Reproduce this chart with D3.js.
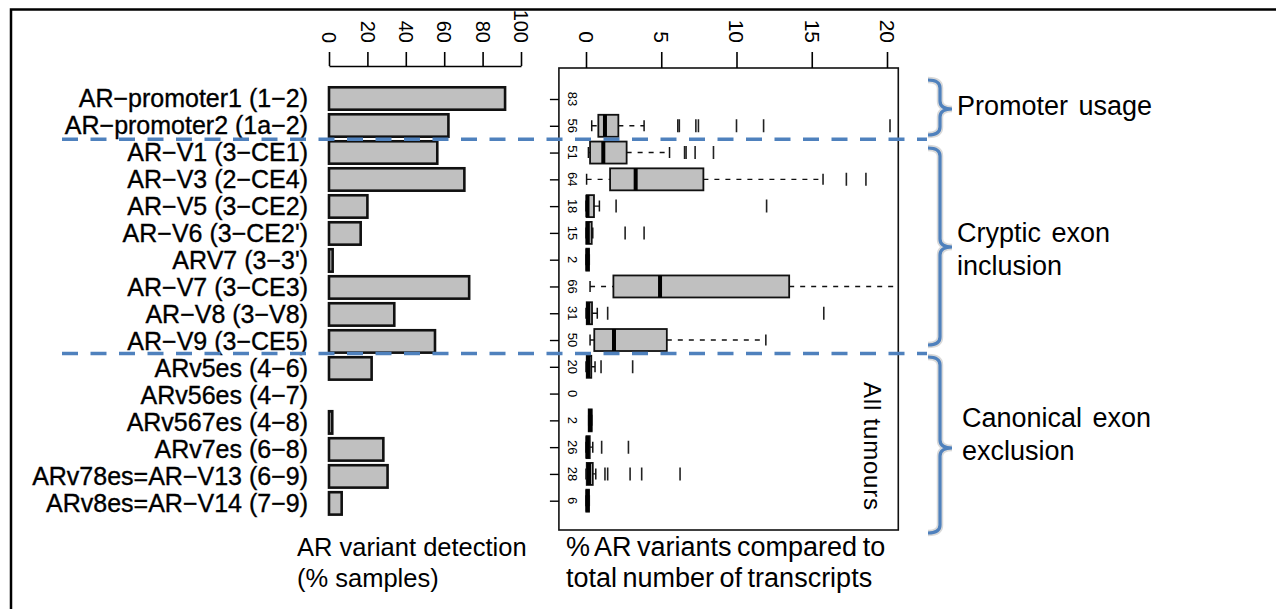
<!DOCTYPE html>
<html>
<head>
<meta charset="utf-8">
<script src="https://cdn.jsdelivr.net/npm/d3@7"></script>
<style>
  body { margin: 0; background: #fff; }
  text { font-family: "Liberation Sans", Arial, sans-serif; fill: #000; }
</style>
</head>
<body>
<div id="img"></div>
<script>
// variant names (rows, top to bottom)
const variants = ["AR−promoter1 (1−2)", "AR−promoter2 (1a−2)", "AR−V1 (3−CE1)", "AR−V3 (2−CE4)",
  "AR−V5 (3−CE2)", "AR−V6 (3−CE2')", "ARV7 (3−3')", "AR−V7 (3−CE3)", "AR−V8 (3−V8)", "AR−V9 (3−CE5)",
  "ARv5es (4−6)", "ARv56es (4−7)", "ARv567es (4−8)", "ARv7es (6−8)", "ARv78es=AR−V13 (6−9)", "ARv8es=AR−V14 (7−9)"];

// % samples where the variant was detected
const detection = [91.7, 62.2, 56.4, 70.5, 20, 16.5, 1.9, 73, 34, 55.2, 22.2, 0, 1.7, 28.3, 30.5, 6.6];

// number of samples per row
const counts = [83, 56, 51, 64, 18, 15, 2, 66, 31, 50, 20, 0, 2, 26, 28, 6];

// boxplot stats (% of transcripts), null = no box drawn
const whiskLo = [null, 0.38, 0.16, 0.04, 0, 0, 0, 0.27, 0, 0.27, 0, null, 0.18, 0, 0, 0];
const q1      = [null, 0.82, 0.27, 1.6, 0.04, 0.02, 0.02, 1.82, 0.05, 0.55, 0.05, null, 0.18, 0.03, 0.05, 0.02];
const median  = [null, 1.26, 1.15, 3.3, 0.1, 0.12, 0.1, 4.92, 0.15, 1.86, 0.15, null, 0.28, 0.1, 0.2, 0.1];
const q3      = [null, 2.15, 2.7, 7.8, 0.53, 0.38, 0.2, 13.5, 0.4, 5.37, 0.35, null, 0.38, 0.25, 0.45, 0.2];
const whiskHi = [null, 3.86, 5.55, 15.75, 0.89, 0.45, 0.22, 22, 0.75, 11.95, 0.6, null, 0.38, 0.45, 0.65, 0.22];
const outliers = [[], [6.1, 6.2, 7.3, 7.47, 10.0, 11.8, 20.2], [6.55, 6.65, 7.25, 8.47], [17.3, 18.6],
  [2.0, 12.0], [2.6, 3.86], [], [], [1.44, 15.8], [], [1.0, 3.1], [], [], [1.04, 2.82],
  [1.26, 1.44, 2.93, 3.7, 6.25], []];

const barTicks = [0, 20, 40, 60, 80, 100];
const boxTicks = [0, 5, 10, 15, 20];

// group brackets on the right
const groups = [
  {lines: ["Promoter usage"], first: 0, last: 1},
  {lines: ["Cryptic exon", "inclusion"], first: 2, last: 9},
  {lines: ["Canonical exon", "exclusion"], first: 10, last: 15}
];

const W = 1276, H = 609;
const blue = "#4f81bd";

var svg = d3.select("#img").append("svg")
  .attr("width", W)
  .attr("height", H);

// outer frame (top and left)
svg.append("path")
  .attr("d", "M11,609 L11,9.5 L1276,9.5")
  .attr("fill", "none").attr("stroke", "#000").attr("stroke-width", 2.5);

// ---------- left panel: bar chart ----------
var barX = d3.scaleLinear().domain([0, 100]).range([329, 521]);
var barY = d3.scaleBand().domain(variants).range([82.7, 519.2]).padding(0.17);

var gBar = svg.append("g");

gBar.selectAll("rect.bar")
  .data(variants)
  .enter()
  .append("rect")
  .attr("class", "bar")
  .attr("x", barX(0))
  .attr("y", d => barY(d))
  .attr("width", (d, i) => barX(detection[i]) - barX(0))
  .attr("height", barY.bandwidth())
  .attr("fill", "#c0c0c0")
  .attr("stroke", "#111")
  .attr("stroke-width", 2.6);

// row labels
gBar.selectAll("text.lab")
  .data(variants)
  .enter()
  .append("text")
  .attr("class", "lab")
  .attr("x", 308)
  .attr("y", d => barY(d) + barY.bandwidth() / 2)
  .attr("dy", "0.36em")
  .attr("text-anchor", "end")
  .style("font-size", "25px")
  .style("stroke", "#000").style("stroke-width", 0.35)
  .text(d => d);

// top axis of bar chart, labels turned on their side
var axBar = svg.append("g")
  .attr("transform", "translate(0,66)")
  .call(d3.axisTop(barX).tickValues(barTicks).tickSize(14).tickSizeOuter(0));
axBar.select(".domain").attr("stroke-width", 1.6);
axBar.selectAll(".tick line").attr("stroke-width", 1.6);
axBar.selectAll(".tick text")
  .attr("x", 0).attr("y", 0).attr("dy", "0.36em")
  .attr("text-anchor", "end")
  .attr("transform", "translate(0,-23) rotate(90)")
  .style("font-size", "20px")
  .style("font-family", "Liberation Sans, Arial, sans-serif");

// ---------- right panel: boxplots ----------
var boxX = d3.scaleLinear().domain([0, 20]).range([586, 887]);
var boxY = d3.scalePoint().domain(variants).range([99, 500.7]);
var frameL = boxX(-1.8), frameR = boxX(20.75), frameT = 68, frameB = 530;

svg.append("clipPath").attr("id", "clipBox")
  .append("rect")
  .attr("x", frameL).attr("y", frameT)
  .attr("width", frameR - frameL).attr("height", frameB - frameT);

var gBox = svg.append("g").attr("clip-path", "url(#clipBox)");
var boxH = 11, capH = 5.5, outH = 6.5;

var rows = variants.map((v, i) => ({v: v, i: i})).filter(d => q1[d.i] !== null);

// dashed whiskers
gBox.selectAll("line.whisk")
  .data(rows.flatMap(d => [{d: d, a: whiskLo[d.i], b: q1[d.i]}, {d: d, a: q3[d.i], b: whiskHi[d.i]}]))
  .enter()
  .append("line")
  .attr("x1", w => boxX(w.a)).attr("x2", w => boxX(w.b))
  .attr("y1", w => boxY(w.d.v)).attr("y2", w => boxY(w.d.v))
  .attr("stroke", "#111").attr("stroke-width", 1.4)
  .attr("stroke-dasharray", "5,6");

// whisker caps
gBox.selectAll("line.cap")
  .data(rows.flatMap(d => [{d: d, x: whiskLo[d.i]}, {d: d, x: whiskHi[d.i]}]))
  .enter()
  .append("line")
  .attr("x1", c => boxX(c.x)).attr("x2", c => boxX(c.x))
  .attr("y1", c => boxY(c.d.v) - capH).attr("y2", c => boxY(c.d.v) + capH)
  .attr("stroke", "#111").attr("stroke-width", 1.5);

// boxes
gBox.selectAll("rect.box")
  .data(rows)
  .enter()
  .append("rect")
  .attr("x", d => boxX(q1[d.i]))
  .attr("y", d => boxY(d.v) - boxH)
  .attr("width", d => boxX(q3[d.i]) - boxX(q1[d.i]))
  .attr("height", 2 * boxH)
  .attr("fill", "#c0c0c0")
  .attr("stroke", "#111")
  .attr("stroke-width", 1.8);

// medians
gBox.selectAll("line.med")
  .data(rows)
  .enter()
  .append("line")
  .attr("x1", d => boxX(median[d.i])).attr("x2", d => boxX(median[d.i]))
  .attr("y1", d => boxY(d.v) - boxH).attr("y2", d => boxY(d.v) + boxH)
  .attr("stroke", "#000").attr("stroke-width", 4);

// outliers drawn as short vertical bars
gBox.selectAll("line.out")
  .data(variants.flatMap((v, i) => outliers[i].map(o => ({v: v, x: o}))))
  .enter()
  .append("line")
  .attr("x1", o => boxX(o.x)).attr("x2", o => boxX(o.x))
  .attr("y1", o => boxY(o.v) - outH).attr("y2", o => boxY(o.v) + outH)
  .attr("stroke", "#222").attr("stroke-width", 1.6);

// frame of the boxplot panel
svg.append("rect")
  .attr("x", frameL).attr("y", frameT)
  .attr("width", frameR - frameL).attr("height", frameB - frameT)
  .attr("fill", "none").attr("stroke", "#111").attr("stroke-width", 1.6);

// top axis
var axBox = svg.append("g")
  .attr("transform", "translate(0," + frameT + ")")
  .call(d3.axisTop(boxX).tickValues(boxTicks).tickSize(16).tickSizeOuter(0));
axBox.select(".domain").remove();
axBox.selectAll(".tick line").attr("stroke-width", 1.6);
axBox.selectAll(".tick text")
  .attr("x", 0).attr("y", 0).attr("dy", "0.36em")
  .attr("text-anchor", "end")
  .attr("transform", "translate(0,-25) rotate(90)")
  .style("font-size", "21px")
  .style("font-family", "Liberation Sans, Arial, sans-serif");

// left ticks, one per row
var axRows = svg.append("g")
  .attr("transform", "translate(" + frameL + ",0)")
  .call(d3.axisLeft(boxY).tickSize(9).tickFormat(""));
axRows.select(".domain").remove();
axRows.selectAll(".tick line").attr("stroke-width", 1.4);

// sample counts
svg.selectAll("text.n")
  .data(variants)
  .enter()
  .append("text")
  .attr("class", "n")
  .attr("text-anchor", "middle")
  .attr("dy", "0.36em")
  .attr("transform", (d, i) => "translate(573," + boxY(d) + ") rotate(90)")
  .style("font-size", "13px")
  .text((d, i) => counts[i]);

svg.append("text")
  .attr("text-anchor", "start")
  .attr("dy", "0.36em")
  .attr("transform", "translate(873,382) rotate(90)")
  .style("font-size", "24px")
  .style("letter-spacing", "0.8px")
  .text("All tumours");

// ---------- group separators and brackets ----------
var sepY = [(boxY(variants[1]) + boxY(variants[2])) / 2, (boxY(variants[9]) + boxY(variants[10])) / 2];
svg.selectAll("line.sep")
  .data(sepY)
  .enter()
  .append("line")
  .attr("x1", 62).attr("x2", 927)
  .attr("y1", d => d).attr("y2", d => d)
  .attr("stroke", blue).attr("stroke-width", 3.5)
  .attr("stroke-dasharray", "16,12.5");

function bracePath(y0, y1, ym) {
  var x0 = 928, xv = 940, xt = 952, r = 8;
  return "M" + x0 + "," + y0 + " Q" + xv + "," + y0 + " " + xv + "," + (y0 + r) +
    " L" + xv + "," + (ym - r) + " Q" + xv + "," + ym + " " + xt + "," + ym +
    " Q" + xv + "," + ym + " " + xv + "," + (ym + r) +
    " L" + xv + "," + (y1 - r) + " Q" + xv + "," + y1 + " " + x0 + "," + y1;
}

var braceTops = [80, 148, 357], braceBots = [135, 345, 533], braceMids = [109, 247, 448];
var gBr = svg.append("g");
groups.forEach(function(g, k) {
  var p = bracePath(braceTops[k], braceBots[k], braceMids[k]);
  gBr.append("path").attr("d", p).attr("fill", "none")
    .attr("stroke", "#d9d9d9").attr("stroke-width", 6.5);
  gBr.append("path").attr("d", p).attr("fill", "none")
    .attr("stroke", blue).attr("stroke-width", 3.2);
});

// group names
var labelX = [957, 957, 962], labelY = [115, 242, 427];
groups.forEach(function(g, k) {
  g.lines.forEach(function(line, j) {
    svg.append("text")
      .attr("x", labelX[k])
      .attr("y", labelY[k] + j * 33)
      .style("font-size", "27px")
      .style("word-spacing", "3px")
      .text(line);
  });
});

// ---------- axis titles at the bottom ----------
var titles = [
  {x: 297, size: 25.5, lines: ["AR variant detection", "(% samples)"]},
  {x: 566, size: 27, lines: ["% AR variants compared to", "total number of transcripts"]}
];
titles.forEach(function(t) {
  t.lines.forEach(function(line, j) {
    svg.append("text")
      .attr("x", t.x)
      .attr("y", 556 + j * 31)
      .style("font-size", t.size + "px")
      .style("word-spacing", t.size > 26 ? "-2px" : "0px")
      .text(line);
  });
});
</script>
</body>
</html>
